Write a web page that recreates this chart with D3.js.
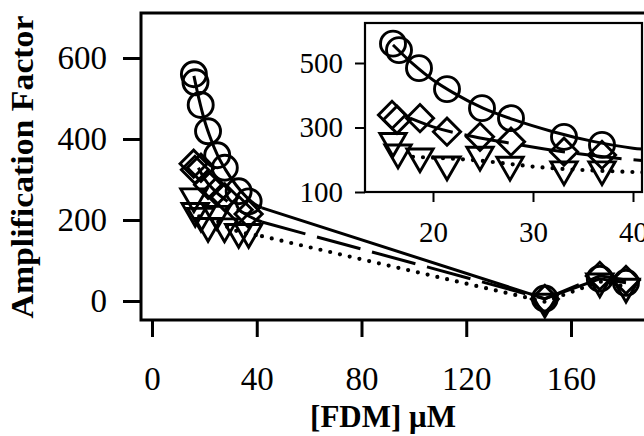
<!DOCTYPE html>
<html><head><meta charset="utf-8">
<script src="https://cdn.jsdelivr.net/npm/d3@7"></script>
<style>body{margin:0;background:#fff}svg{display:block}</style>
</head><body>
<svg id="c" width="644" height="436"></svg>
<script>
// ---- data ----
const mainXTicks = [0, 40, 80, 120, 160];
const mainYTicks = [0, 200, 400, 600];
const insetXTicks = [20, 30, 40];
const insetYTicks = [100, 300, 500];

const circleX   = [16.0, 16.6, 18.6, 21.4, 24.9, 27.8, 33.1, 36.9, 150, 171, 181];
const circleY   = [560, 540, 484, 419, 360, 329, 271, 246, 6, 55, 45];
const diamondX  = [15.9, 16.4, 18.7, 21.4, 24.7, 27.8, 33.1, 36.9, 150, 171, 181];
const diamondY  = [339, 324, 329, 287, 271, 256, 225, 215, 5, 62, 52];
const triangleX = [16.0, 16.5, 18.7, 21.4, 24.7, 27.7, 33.1, 36.9, 150, 171, 181];
const triangleY = [258, 222, 210, 185, 215, 184, 170, 170, -2, 48, 35];

const circleFitX   = [16, 18, 20, 22, 25, 28, 32, 36, 40, 42];
const circleFitY   = [556, 497, 447, 408, 360, 325, 287, 257, 236, 230];
const diamondFitX  = [17.7, 20, 24, 28, 33, 40, 42];
const diamondFitY  = [329, 302, 272, 250, 225, 200, 195];
const triangleFitX = [18, 24, 31, 40, 42];
const triangleFitY = [209, 199, 176, 162, 160];

const FONT = "'Liberation Serif','Times New Roman',serif";
const svg = d3.select("#c");

const zip = (a, b) => a.map((v, i) => [v, b[i]]);
const series = [
  {pts: zip(circleX, circleY), fit: zip(circleFitX, circleFitY), shape: "circle", dash: null, w: 3},
  {pts: zip(diamondX, diamondY), fit: zip(diamondFitX, diamondFitY), shape: "diamond", dash: "45,12", w: 3},
  {pts: zip(triangleX, triangleY), fit: zip(triangleFitX, triangleFitY), shape: "triangle", dash: "0,10", w: 4.2}
];

function drawMarkers(g, pts, shape, sx, sy) {
  const sel = g.selectAll(null).data(pts).enter();
  const SW = 2.9;
  if (shape === "circle") {
    sel.append("circle").attr("cx", d => sx(d[0])).attr("cy", d => sy(d[1])).attr("r", 12.5)
      .attr("fill", "none").attr("stroke", "#000").attr("stroke-width", SW);
  } else if (shape === "diamond") {
    const p = d3.symbol(d3.symbolSquare, 370)();
    sel.append("path").attr("d", p)
      .attr("transform", d => `translate(${sx(d[0])},${sy(d[1])}) rotate(45)`)
      .attr("fill", "none").attr("stroke", "#000").attr("stroke-width", SW);
  } else {
    const p = d3.symbol(d3.symbolTriangle, 300)();
    sel.append("path").attr("d", p)
      .attr("transform", d => `translate(${sx(d[0])},${sy(d[1])}) rotate(180)`)
      .attr("fill", "none").attr("stroke", "#000").attr("stroke-width", SW);
  }
}

function drawSeries(g, sx, sy, withTail) {
  series.forEach(s => {
    const cap = s.dash === "0,10" ? "round" : "butt";
    const fitLine = d3.line().x(d => sx(d[0])).y(d => sy(d[1])).curve(d3.curveMonotoneX);
    const p = g.append("path").attr("d", fitLine(s.fit)).attr("fill", "none")
      .attr("stroke", "#000").attr("stroke-width", s.w).attr("stroke-linecap", cap);
    if (s.dash) p.attr("stroke-dasharray", s.dash);
    if (withTail) {
      const tail = [s.fit[s.fit.length - 1]].concat(s.pts.filter(d => d[0] > 100));
      const lin = d3.line().x(d => sx(d[0])).y(d => sy(d[1]));
      const t = g.append("path").attr("d", lin(tail)).attr("fill", "none")
        .attr("stroke", "#000").attr("stroke-width", s.w).attr("stroke-linecap", cap);
      if (s.dash) t.attr("stroke-dasharray", s.dash);
    }
  });
  series.forEach(s => drawMarkers(g, s.pts, s.shape, sx, sy));
}

// ---- main chart ----
const x = d3.scaleLinear().domain([0, 160]).range([152, 571]);
const y = d3.scaleLinear().domain([0, 600]).range([301, 58]);
const L = 141, T = 13, B = 320, R = 720;

svg.append("defs").append("clipPath").attr("id", "mainclip")
  .append("rect").attr("x", L).attr("y", T).attr("width", R - L).attr("height", B - T);
const gm = svg.append("g").attr("clip-path", "url(#mainclip)");
drawSeries(gm, x, y, true);

// frame
svg.append("path").attr("d", `M${R},${T}H${L}V${B}H${R}`).attr("fill", "none")
  .attr("stroke", "#000").attr("stroke-width", 3);

// main axes
const xAx = svg.append("g").attr("transform", `translate(0,${B})`)
  .call(d3.axisBottom(x).tickValues(mainXTicks).tickSize(17).tickPadding(30));
xAx.select(".domain").remove();
xAx.selectAll("line").attr("stroke-width", 3);
xAx.selectAll("text").attr("font-family", FONT).attr("font-size", 33).attr("fill", "#000");

const yAx = svg.append("g").attr("transform", `translate(${L},0)`)
  .call(d3.axisLeft(y).tickValues(mainYTicks).tickSize(18).tickPadding(16));
yAx.select(".domain").remove();
yAx.selectAll("line").attr("stroke-width", 3);
yAx.selectAll("text").attr("font-family", FONT).attr("font-size", 33).attr("fill", "#000");

svg.append("text").attr("transform", "translate(33,167) rotate(-90)")
  .attr("text-anchor", "middle").attr("font-family", FONT).attr("font-weight", "bold")
  .attr("font-size", 31).attr("textLength", 303).attr("lengthAdjust", "spacingAndGlyphs")
  .text("Amplification Factor");
svg.append("text").attr("x", 383).attr("y", 427)
  .attr("text-anchor", "middle").attr("font-family", FONT).attr("font-weight", "bold")
  .attr("font-size", 31).text("[FDM] μM");

// ---- inset ----
const xi = d3.scaleLinear().domain([20, 40]).range([433, 633]);
const yi = d3.scaleLinear().domain([100, 500]).range([192, 63]);
const iL = 365, iT = 23, iB = 192, iR = 642;
svg.append("rect").attr("x", iL).attr("y", iT).attr("width", iR - iL).attr("height", iB - iT)
  .attr("fill", "#fff");
svg.select("defs").append("clipPath").attr("id", "insclip")
  .append("rect").attr("x", iL).attr("y", iT).attr("width", iR - iL).attr("height", iB - iT);
const gi = svg.append("g").attr("clip-path", "url(#insclip)");
drawSeries(gi, xi, yi, false);
svg.append("rect").attr("x", iL).attr("y", iT).attr("width", iR - iL).attr("height", iB - iT)
  .attr("fill", "none").attr("stroke", "#000").attr("stroke-width", 2.2);

const xiAx = svg.append("g").attr("transform", `translate(0,${iB})`)
  .call(d3.axisBottom(xi).tickValues(insetXTicks).tickSize(10).tickPadding(19));
xiAx.select(".domain").remove();
xiAx.selectAll("line").attr("stroke-width", 2);
xiAx.selectAll("text").attr("font-family", FONT).attr("font-size", 29).attr("fill", "#000");

const yiAx = svg.append("g").attr("transform", `translate(${iL},0)`)
  .call(d3.axisLeft(yi).tickValues(insetYTicks).tickSize(10).tickPadding(12));
yiAx.select(".domain").remove();
yiAx.selectAll("line").attr("stroke-width", 2);
yiAx.selectAll("text").attr("font-family", FONT).attr("font-size", 29).attr("fill", "#000");
</script>
</body></html>
